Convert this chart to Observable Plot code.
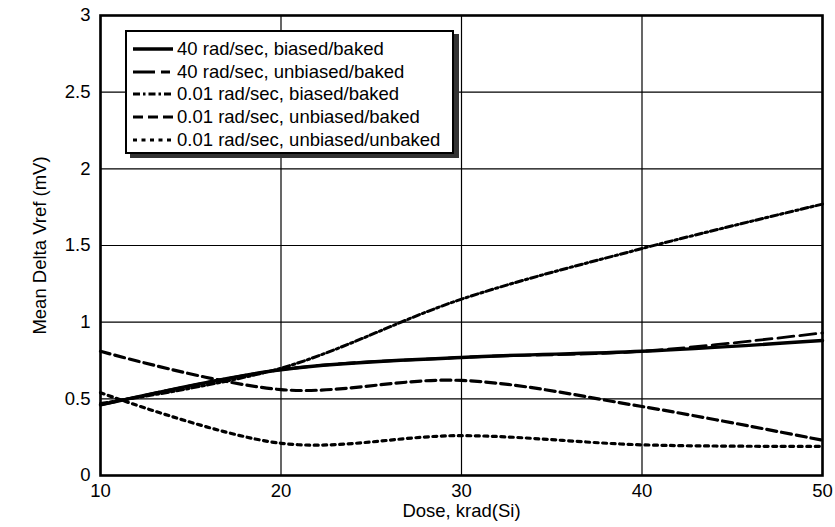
<!DOCTYPE html>
<html>
<head>
<meta charset="utf-8">
<script src="https://cdn.jsdelivr.net/npm/d3@7"></script>
<script src="https://cdn.jsdelivr.net/npm/@observablehq/plot@0.6"></script>
<style>
  html, body { margin: 0; padding: 0; background: #fff; }
  #wrap { position: relative; width: 835px; height: 527px; font-family: "Liberation Sans", Arial, sans-serif; }
  #legend { position: absolute; left: 125px; top: 30px; width: 329px; height: 124px; border: 2px solid #000; background: #fff; box-shadow: 5px 4px 0 #333; padding: 6px 0 0 5px; box-sizing: border-box; }
  .row { display: flex; align-items: center; height: 22.6px; font-size: 18.5px; color: #000; white-space: nowrap; }
  .row svg { margin-right: 3px; flex: none; }
</style>
</head>
<body>
<div id="wrap"><div id="chart"></div><div id="legend"></div></div>
<script>
const dose = [10, 20, 30, 40, 50];
const seriesNames = [
  "40 rad/sec, biased/baked",
  "40 rad/sec, unbiased/baked",
  "0.01 rad/sec, biased/baked",
  "0.01 rad/sec, unbiased/baked",
  "0.01 rad/sec, unbiased/unbaked"
];
const s40Biased = [0.46, 0.69, 0.77, 0.81, 0.88];
const s40Unbiased = [0.46, 0.69, 0.77, 0.81, 0.93];
const s001Biased = [0.47, 0.70, 1.15, 1.48, 1.77];
const s001UnbiasedBaked = [0.81, 0.56, 0.62, 0.45, 0.23];
const s001UnbiasedUnbaked = [0.54, 0.21, 0.26, 0.20, 0.19];
const yTicks = [0, 0.5, 1, 1.5, 2, 2.5, 3];
const xTicks = [10, 20, 30, 40, 50];

const seriesValues = [s40Biased, s40Unbiased, s001Biased, s001UnbiasedBaked, s001UnbiasedUnbaked];
const styles = [
  {dash: null, width: 3.4},
  {dash: "16,6", width: 2.8},
  {dash: "7,3,2.5,3", width: 3},
  {dash: "10,5", width: 3.2},
  {dash: "4,4.5", width: 3.2}
];
const legendDash = [null, "22,6,9,40", "7,3,2.5,3", "10,5", "4,4.5"];

const data = [];
seriesNames.forEach((name, i) => dose.forEach((d, j) => data.push({series: name, dose: d, value: seriesValues[i][j]})));

const lineMarks = seriesNames.map((name, i) => Plot.line(data.filter(d => d.series === name), {
  x: "dose", y: "value", stroke: "#000", strokeWidth: styles[i].width,
  strokeDasharray: styles[i].dash, curve: "catmull-rom"
}));

const font = "'Liberation Sans', Arial, sans-serif";
const chart = Plot.plot({
  width: 835, height: 527,
  marginLeft: 100, marginRight: 13, marginTop: 15, marginBottom: 52,
  style: {fontFamily: font, color: "#000", background: "#fff"},
  x: {domain: [10, 50]},
  y: {domain: [0, 3]},
  marks: [
    Plot.gridX(xTicks, {stroke: "#000", strokeOpacity: 1, strokeWidth: 1.2}),
    Plot.gridY(yTicks, {stroke: "#000", strokeOpacity: 1, strokeWidth: 1.2}),
    ...lineMarks,
    Plot.frame({stroke: "#000", strokeWidth: 2.6}),
    Plot.axisX(xTicks, {tickSize: 0, tickPadding: 8, fontSize: 18.5, fill: "#000",
      label: "Dose, krad(Si)", labelAnchor: "center", labelArrow: "none", labelOffset: 41}),
    Plot.axisY(yTicks, {tickSize: 0, tickPadding: 10, fontSize: 18.5, fill: "#000", tickFormat: d => String(d),
      label: "Mean Delta Vref (mV)", labelAnchor: "center", labelArrow: "none", labelOffset: 68})
  ]
});
document.getElementById("chart").appendChild(chart);

const legend = document.getElementById("legend");
seriesNames.forEach((name, i) => {
  const row = document.createElement("div");
  row.className = "row";
  const svg = d3.create("svg").attr("width", 42).attr("height", 10);
  svg.append("line").attr("x1", 1).attr("x2", 41).attr("y1", 5).attr("y2", 5)
    .attr("stroke", "#000").attr("stroke-width", styles[i].width)
    .attr("stroke-dasharray", legendDash[i]);
  row.appendChild(svg.node());
  const span = document.createElement("span");
  span.textContent = name;
  row.appendChild(span);
  legend.appendChild(row);
});
</script>
</body>
</html>
